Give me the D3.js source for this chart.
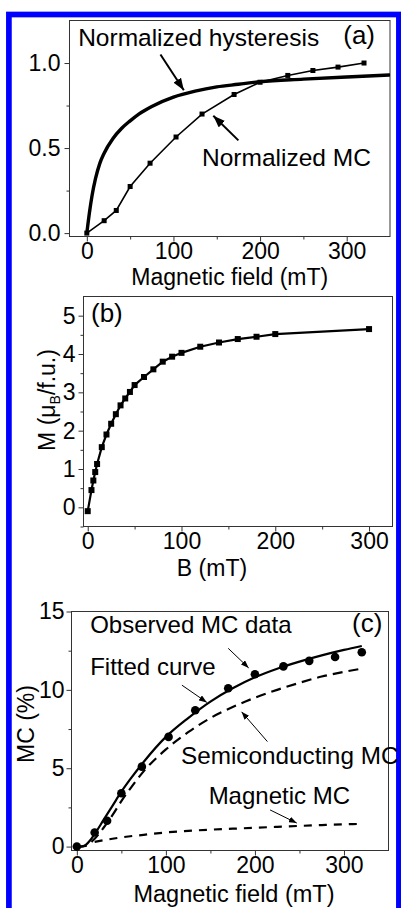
<!DOCTYPE html>
<html>
<head>
<meta charset="utf-8">
<script src="https://cdn.jsdelivr.net/npm/d3@7"></script>
<style>
  body { margin: 0; background: #fff; }
  svg { display: block; font-family: "Liberation Sans", Arial, sans-serif; }
  .frame { fill: none; stroke: #333; stroke-width: 1; }
  .axis path { display: none; }
  .axis line { stroke: #333; stroke-width: 1; }
  .axis text { font-size: 23px; fill: #000; font-family: "Liberation Sans", Arial, sans-serif; }
  .note { font-size: 23px; fill: #000; }
</style>
</head>
<body>
<svg width="401" height="908"></svg>
<script>
// (a) normalized hysteresis vs normalized MC
const hystField = [0, 3, 6, 10, 15, 20, 30, 40, 50, 60, 75, 100, 125, 150, 175, 200, 250, 300, 350];
const hystNorm = [0, 0.12, 0.22, 0.32, 0.41, 0.47, 0.555, 0.615, 0.66, 0.7, 0.745, 0.8, 0.835, 0.86, 0.875, 0.89, 0.905, 0.918, 0.93];
const mcField = [0, 20, 34, 50, 73, 103, 133, 170, 200, 232, 261, 290, 320];
const mcNorm = [0, 0.073, 0.133, 0.274, 0.411, 0.565, 0.7, 0.815, 0.887, 0.927, 0.956, 0.976, 1.0];

// (b) magnetization
const bField = [0, 4, 6, 8, 10, 15, 20, 25, 30, 35, 40, 45, 50, 60, 70, 80, 90, 100, 120, 140, 160, 180, 200, 300];
const bMoment = [-0.1, 0.45, 0.7, 0.92, 1.13, 1.57, 1.9, 2.18, 2.43, 2.66, 2.84, 3.01, 3.19, 3.4, 3.6, 3.8, 3.93, 4.03, 4.19, 4.3, 4.39, 4.45, 4.52, 4.65];

// (c) MC decomposition
const obsMC = [0, 0.9, 1.65, 3.4, 5.1, 7.0, 8.7, 10.1, 11.0, 11.5, 11.85, 12.1, 12.4];
const fitField = [0, 5, 10, 15, 20, 30, 40, 50, 60, 75, 100, 125, 150, 175, 200, 225, 250, 275, 300, 320];
const fitMC = [0, 0, 0.1, 0.4, 0.8, 1.7, 2.6, 3.5, 4.3, 5.4, 7.0, 8.2, 9.25, 10.1, 10.8, 11.35, 11.8, 12.2, 12.55, 12.8];
const semiField = [0, 10, 20, 30, 40, 50, 60, 75, 100, 125, 150, 175, 200, 225, 250, 275, 300, 320];
const semiMC = [0, 0.05, 0.5, 1.2, 2.0, 2.9, 3.7, 4.8, 6.2, 7.3, 8.2, 8.9, 9.5, 10.0, 10.45, 10.85, 11.15, 11.35];
const magField = [20, 40, 60, 75, 100, 125, 150, 175, 200, 225, 250, 275, 300, 320];
const magMC = [0.3, 0.5, 0.66, 0.75, 0.9, 1.0, 1.08, 1.14, 1.2, 1.26, 1.32, 1.37, 1.42, 1.45];

// ticks
const fieldTicks = [0, 100, 200, 300];
const fieldMinor = [50, 150, 250];
const aYTicks = [0, 0.5, 1.0];
const aYMinor = [0.25, 0.75];
const bYTicks = [0, 1, 2, 3, 4, 5];
const bYMinor = [-0.5, 0.5, 1.5, 2.5, 3.5, 4.5];
const cYTicks = [0, 5, 10, 15];
const cYMinor = [2.5, 7.5, 12.5];

const zip = (xs, ys) => xs.map((v, i) => [v, ys[i]]);

const svg = d3.select("svg");

// blue selection border
svg.append("rect")
  .attr("x", 8.9).attr("y", 14.5)
  .attr("width", 390).attr("height", 905)
  .attr("fill", "none")
  .attr("stroke", "#0000ff")
  .attr("stroke-width", 5.7);

const defs = svg.append("defs");
const addArrow = (id, w, h) => {
  defs.append("marker")
    .attr("id", id)
    .attr("markerUnits", "userSpaceOnUse")
    .attr("viewBox", `0 0 ${w} ${h}`)
    .attr("refX", w).attr("refY", h / 2)
    .attr("markerWidth", w).attr("markerHeight", h)
    .attr("orient", "auto")
    .append("path")
    .attr("d", `M0,0L${w},${h / 2}L0,${h}Z`)
    .attr("fill", "#000");
};
addArrow("headA", 12, 9);
addArrow("headC", 8, 6);

const panel = p => {
  const x = d3.scaleLinear().domain(p.xDomain).range([p.left, p.right]);
  const y = d3.scaleLinear().domain(p.yDomain).range([p.bottom, p.top]);
  const g = svg.append("g");

  g.append("g").attr("class", "axis")
    .attr("transform", `translate(0,${p.bottom})`)
    .call(d3.axisBottom(x).tickValues(fieldMinor).tickSize(3).tickFormat(""));
  g.append("g").attr("class", "axis")
    .attr("transform", `translate(0,${p.bottom})`)
    .call(d3.axisBottom(x).tickValues(fieldTicks).tickSize(5).tickPadding(1.5).tickFormat(d3.format("d")));
  g.append("g").attr("class", "axis")
    .attr("transform", `translate(${p.left},0)`)
    .call(d3.axisLeft(y).tickValues(p.yMinor).tickSize(3).tickFormat(""));
  g.append("g").attr("class", "axis")
    .attr("transform", `translate(${p.left},0)`)
    .call(d3.axisLeft(y).tickValues(p.yTicks).tickSize(5).tickPadding(p.yPad).tickFormat(p.yFormat));

  g.append("rect").attr("class", "frame")
    .attr("x", p.left).attr("y", p.top)
    .attr("width", p.right - p.left).attr("height", p.bottom - p.top);

  return { g, x, y };
};

const note = (g, x, y, pos, text, size) =>
  g.append("text").attr("class", "note")
    .attr("x", x(pos[0])).attr("y", y(pos[1]))
    .style("font-size", `${size}px`)
    .text(text);

const arrow = (g, x, y, from, to, w, head) =>
  g.append("line")
    .attr("x1", x(from[0])).attr("y1", y(from[1]))
    .attr("x2", x(to[0])).attr("y2", y(to[1]))
    .attr("stroke", "#000").attr("stroke-width", w)
    .attr("marker-end", `url(#${head})`);

// ---------- (a)
{
  const { g, x, y } = panel({
    left: 69.5, right: 390, top: 20.5, bottom: 236.5,
    xDomain: [-20, 350], yDomain: [-0.02, 1.25],
    yTicks: aYTicks, yMinor: aYMinor, yPad: 4, yFormat: d3.format(".1f")
  });

  g.append("path")
    .attr("d", d3.line().x(d => x(d[0])).y(d => y(d[1])).curve(d3.curveMonotoneX)(zip(hystField, hystNorm)))
    .attr("fill", "none").attr("stroke", "#000").attr("stroke-width", 3.4);

  g.append("path")
    .attr("d", d3.line().x(d => x(d[0])).y(d => y(d[1]))(zip(mcField, mcNorm)))
    .attr("fill", "none").attr("stroke", "#000").attr("stroke-width", 1.6);

  g.selectAll("rect.pt").data(zip(mcField, mcNorm)).join("rect")
    .attr("class", "pt")
    .attr("x", d => x(d[0]) - 2.5).attr("y", d => y(d[1]) - 2.5)
    .attr("width", 5).attr("height", 5).attr("fill", "#000");

  note(g, x, y, [-10, 1.103], "Normalized hysteresis", 24.5);
  note(g, x, y, [296, 1.109], "(a)", 26);
  note(g, x, y, [133, 0.392], "Normalized MC", 24.5);
  arrow(g, x, y, [85, 1.05], [112, 0.84], 2, "headA");
  arrow(g, x, y, [175, 0.545], [146, 0.69], 2, "headA");

  g.append("text").attr("class", "note")
    .attr("x", (x.range()[0] + x.range()[1]) / 2).attr("y", 284.5)
    .attr("text-anchor", "middle")
    .text("Magnetic field (mT)");
}

// ---------- (b)
{
  const { g, x, y } = panel({
    left: 83.5, right: 392.5, top: 296.5, bottom: 526.5,
    xDomain: [-4.5, 325], yDomain: [-0.5, 5.5],
    yTicks: bYTicks, yMinor: bYMinor, yPad: 3, yFormat: d3.format("d")
  });

  g.append("path")
    .attr("d", d3.line().x(d => x(d[0])).y(d => y(d[1]))(zip(bField, bMoment)))
    .attr("fill", "none").attr("stroke", "#000").attr("stroke-width", 2.2);

  g.selectAll("rect.pt").data(zip(bField, bMoment)).join("rect")
    .attr("class", "pt")
    .attr("x", d => x(d[0]) - 3).attr("y", d => y(d[1]) - 3)
    .attr("width", 6).attr("height", 6).attr("fill", "#000");

  note(g, x, y, [3.5, 4.83], "(b)", 26);

  g.append("text").attr("class", "note")
    .attr("x", 212).attr("y", 576)
    .attr("text-anchor", "middle")
    .text("B (mT)");

  const t = g.append("text").attr("class", "note")
    .attr("transform", "translate(55,400) rotate(-90)")
    .attr("text-anchor", "middle");
  t.append("tspan").text("M (μ");
  t.append("tspan").attr("dy", 5).style("font-size", "14px").text("B");
  t.append("tspan").attr("dy", -5).text("/f.u.)");
}

// ---------- (c)
{
  const { g, x, y } = panel({
    left: 71.5, right: 388.5, top: 611.5, bottom: 850.5,
    xDomain: [-6, 350], yDomain: [-0.25, 15],
    yTicks: cYTicks, yMinor: cYMinor, yPad: 2, yFormat: d3.format("d")
  });

  const smooth = d3.line().x(d => x(d[0])).y(d => y(d[1])).curve(d3.curveMonotoneX);

  g.append("path").attr("d", smooth(zip(semiField, semiMC)))
    .attr("fill", "none").attr("stroke", "#000").attr("stroke-width", 2.2)
    .attr("stroke-dasharray", "10,6");
  g.append("path").attr("d", smooth(zip(magField, magMC)))
    .attr("fill", "none").attr("stroke", "#000").attr("stroke-width", 2.2)
    .attr("stroke-dasharray", "8,7");
  g.append("path").attr("d", smooth(zip(fitField, fitMC)))
    .attr("fill", "none").attr("stroke", "#000").attr("stroke-width", 2.2);

  g.selectAll("circle").data(zip(mcField, obsMC)).join("circle")
    .attr("cx", d => x(d[0])).attr("cy", d => y(d[1]))
    .attr("r", 4.3).attr("fill", "#000");

  note(g, x, y, [15, 13.63], "Observed MC data", 24);
  note(g, x, y, [309, 13.69], "(c)", 26);
  note(g, x, y, [15, 10.95], "Fitted curve", 24);
  note(g, x, y, [117, 5.27], "Semiconducting MC", 24.3);
  note(g, x, y, [148, 2.72], "Magnetic MC", 24);

  arrow(g, x, y, [170, 12.65], [193, 11.4], 1, "headC");
  arrow(g, x, y, [118, 10.3], [146, 9.2], 1, "headC");
  arrow(g, x, y, [214, 6.7], [185, 8.6], 1, "headC");
  arrow(g, x, y, [217, 2.34], [247, 1.5], 1, "headC");

  g.append("text").attr("class", "note")
    .attr("x", 234).attr("y", 902)
    .attr("text-anchor", "middle")
    .style("font-size", "23.5px")
    .text("Magnetic field (mT)");

  g.append("text").attr("class", "note")
    .attr("transform", "translate(34,724) rotate(-90)")
    .attr("text-anchor", "middle")
    .text("MC (%)");
}
</script>
</body>
</html>
